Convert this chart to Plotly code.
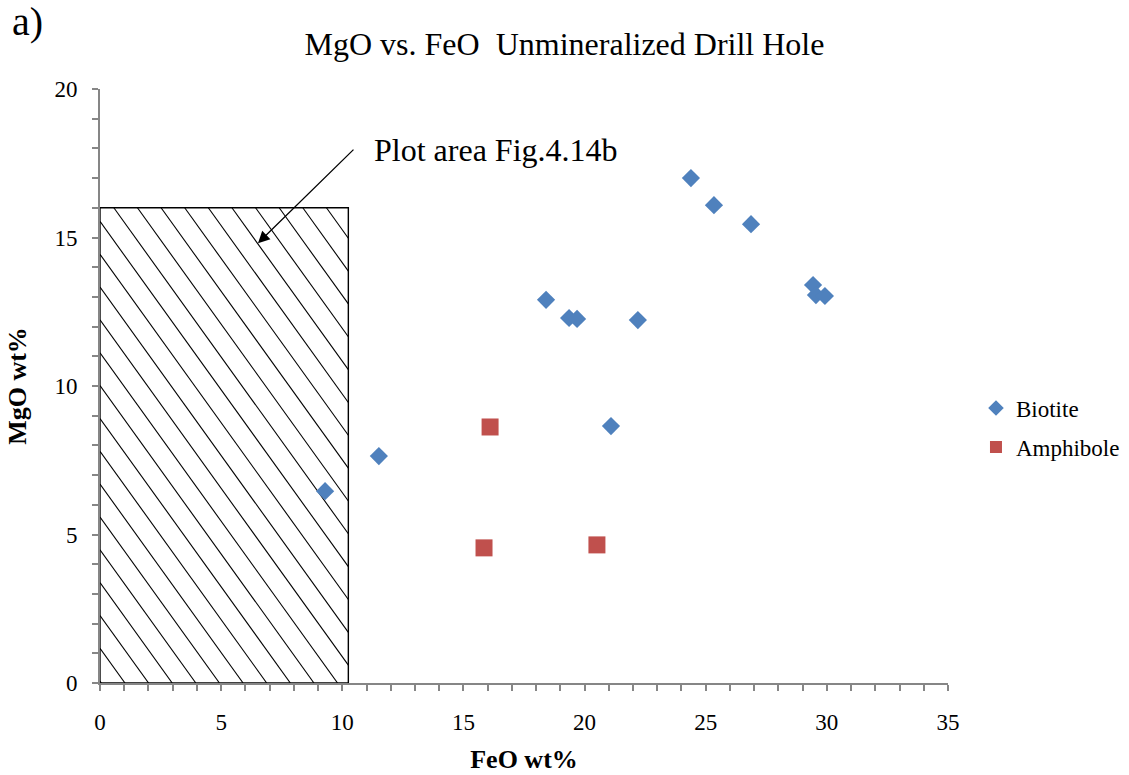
import numpy as np
import plotly.graph_objects as go

# Data
biotite_feo = [9.29, 11.51, 18.41, 19.36, 19.69, 21.09, 22.2, 24.39, 25.34, 26.87, 29.43, 29.55, 29.92]
biotite_mgo = [6.46, 7.64, 12.9, 12.29, 12.26, 8.65, 12.22, 17.0, 16.09, 15.45, 13.4, 13.06, 13.03]
amph_feo = [16.1, 15.85, 20.51]
amph_mgo = [8.62, 4.55, 4.65]

# Hatched "plot area" rectangle (Fig. 4.14b extent)
rect_w = 10.25
rect_h = 16.0
rect_x = [0, rect_w, rect_w, 0, 0]
rect_y = [0, 0, rect_h, rect_h, 0]

FONT = "Liberation Serif"
AX = "#868686"

# hatch lines (down-right diagonals) clipped to the rectangle
k = 1.134        # slope in data units (MgO per FeO)
step = 0.975     # spacing along FeO
hx, hy = [], []
for c in np.arange(1.03 - 20 * step, rect_w + rect_h / k + step, step):
    y0 = max(0.0, k * (c - rect_w))
    y1 = min(rect_h, k * c)
    if y1 <= y0:
        continue
    hx += [c - y0 / k, c - y1 / k, None]
    hy += [y0, y1, None]

fig = go.Figure()
fig.add_trace(go.Scatter(x=hx, y=hy, mode="lines", line=dict(color="black", width=1.1),
                         showlegend=False, hoverinfo="skip"))
fig.add_trace(go.Scatter(x=rect_x, y=rect_y, mode="lines", line=dict(color="black", width=1.4),
                         showlegend=False, hoverinfo="skip"))
fig.add_trace(go.Scatter(
    x=biotite_feo, y=biotite_mgo, mode="markers", name="Biotite",
    marker=dict(symbol="diamond", size=14, color="#4F81BD"), legendgroup="b",
))
fig.add_trace(go.Scatter(
    x=amph_feo, y=amph_mgo, mode="markers", name="Amphibole",
    marker=dict(symbol="square", size=17, color="#C0504D"), legendgroup="a",
))

fig.update_layout(
    width=1129, height=775,
    margin=dict(l=100, r=181, t=89, b=92, autoexpand=False),
    paper_bgcolor="white", plot_bgcolor="white",
    font=dict(family=FONT, color="black", size=21),
    title=dict(text="MgO vs. FeO  Unmineralized Drill Hole", x=0.5, xref="container",
               y=1 - 44 / 775, yref="container", yanchor="middle", xanchor="center",
               font=dict(size=32, family=FONT)),
    legend=dict(x=1.033, y=0.43, xanchor="left", yanchor="middle",
                font=dict(size=23, family=FONT), tracegroupgap=6, itemsizing="constant"),
    showlegend=True,
)
fig.update_xaxes(
    range=[0, 35], dtick=5, tick0=0, showgrid=False, zeroline=False,
    showline=True, linecolor=AX, linewidth=1.6,
    ticks="outside", ticklen=6, tickcolor=AX, tickwidth=1.5,
    ticklabelstandoff=12,
    minor=dict(dtick=1, ticks="outside", ticklen=6, tickcolor=AX, tickwidth=1.5, showgrid=False),
    tickfont=dict(size=23, family=FONT),
    title=dict(text="<b>FeO wt%</b>", font=dict(size=26, family=FONT), standoff=15),
    automargin=False,
)
fig.update_yaxes(
    range=[0, 20], dtick=5, tick0=0, showgrid=False, zeroline=False,
    showline=True, linecolor=AX, linewidth=1.6,
    ticks="outside", ticklen=6, tickcolor=AX, tickwidth=1.5,
    ticklabelstandoff=10,
    minor=dict(dtick=1, ticks="outside", ticklen=6, tickcolor=AX, tickwidth=1.5, showgrid=False),
    tickfont=dict(size=23, family=FONT),
    title=dict(text="<b>MgO wt%</b>", font=dict(size=26, family=FONT), standoff=20),
    automargin=False,
)

fig.add_annotation(x=-0.106, y=1.113, xref="paper", yref="paper", text="a)",
                   showarrow=False, xanchor="left", yanchor="middle",
                   font=dict(size=40, family=FONT))
fig.add_annotation(x=11.23, y=17.95, xref="x", yref="y", text="Plot area Fig.4.14b",
                   showarrow=False, xanchor="left", yanchor="middle",
                   font=dict(size=32, family=FONT))
fig.add_annotation(x=6.52, y=14.81, xref="x", yref="y", text="", showarrow=True,
                   ax=97, ay=-95, arrowhead=2, arrowsize=1.8, arrowwidth=1.3,
                   arrowcolor="black")

fig.write_html("out.html")
